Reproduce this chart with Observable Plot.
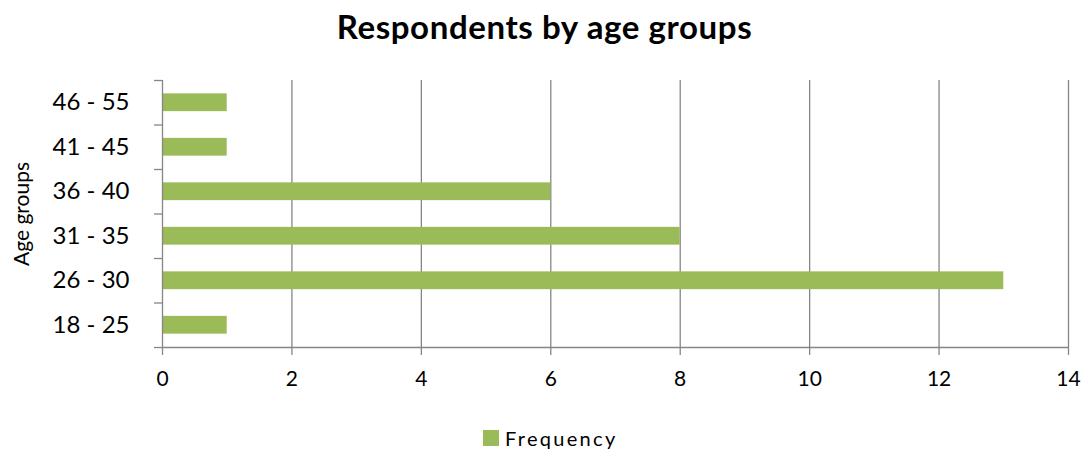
<!DOCTYPE html>
<html>
<head>
<meta charset="utf-8">
<script src="https://cdn.jsdelivr.net/npm/d3@7"></script>
<script src="https://cdn.jsdelivr.net/npm/@observablehq/plot@0.6"></script>
<style>
  body { margin: 0; background: #fff; font-family: Lato, sans-serif; }
  #wrap { position: relative; width: 1089px; height: 455px; }
  #title { position: absolute; top: 6px; left: 0; width: 1089px; text-align: center;
           font-size: 33px; font-weight: bold; letter-spacing: 0.6px; color: #000; }
  #chart { position: absolute; top: 62px; left: 0; }
  #legend { position: absolute; top: 426px; left: 483px; display: flex; align-items: center;
            font-size: 20px; letter-spacing: 2.3px; color: #000; }
  #legend .sw { width: 16px; height: 16px; background: #9BBB59; margin-right: 6px; }
</style>
</head>
<body>
<div id="wrap">
  <div id="title">Respondents by age groups</div>
  <div id="chart"></div>
  <div id="legend"><span class="sw"></span><span>Frequency</span></div>
</div>
<script>
// Age groups, bottom to top, and the number of respondents in each
const ageGroups = ["18 - 25", "26 - 30", "31 - 35", "36 - 40", "41 - 45", "46 - 55"];
const frequency = [1, 13, 8, 6, 1, 1];
const xTicks = [0, 2, 4, 6, 8, 10, 12, 14];

const rows = ageGroups.map((g, i) => ({group: g, index: i, value: frequency[i]}));
const positions = ageGroups.map((_, i) => i);
const boundaries = d3.range(ageGroups.length + 1).map(i => i - 0.5);

const gridColor = "#868686";
const barColor = "#9BBB59";

const chart = Plot.plot({
  width: 1089,
  height: 340,
  marginLeft: 162,
  marginRight: 21,
  marginTop: 18,
  marginBottom: 55,
  style: {fontFamily: "Lato, sans-serif", color: "#000", background: "#fff"},
  x: {domain: [0, 14]},
  y: {domain: [-0.5, ageGroups.length - 0.5]},
  marks: [
    // vertical gridlines
    Plot.ruleX(xTicks.slice(1), {stroke: gridColor, strokeWidth: 1.3, strokeOpacity: 1}),
    // category bars
    Plot.rect(rows, {x1: 0, x2: "value", y1: d => d.index - 0.2, y2: d => d.index + 0.2, fill: barColor, insetLeft: 1}),
    // axis lines
    Plot.ruleX([0], {stroke: gridColor, strokeWidth: 1.3}),
    Plot.ruleY([-0.5], {stroke: gridColor, strokeWidth: 1.3}),
    // x axis ticks and labels
    Plot.axisX({ticks: xTicks, tickSize: 8, tickPadding: 16, fontSize: 21, stroke: gridColor, strokeWidth: 1.3, label: null, tickFormat: d => String(d)}),
    // y tick marks at band boundaries
    Plot.axisY({ticks: boundaries, tickSize: 8, tickFormat: () => "", stroke: gridColor, strokeWidth: 1.3, label: null}),
    // y category labels
    Plot.axisY({ticks: positions, tickSize: 0, tickPadding: 33, fontSize: 24, tickFormat: i => ageGroups[i], label: null}),
    // y axis title
    Plot.text(["Age groups"], {frameAnchor: "left", textAnchor: "middle", dx: -140, rotate: -90, fontSize: 21, letterSpacing: 2, fill: "#000"})
  ]
});
document.getElementById("chart").appendChild(chart);
</script>
</body>
</html>
